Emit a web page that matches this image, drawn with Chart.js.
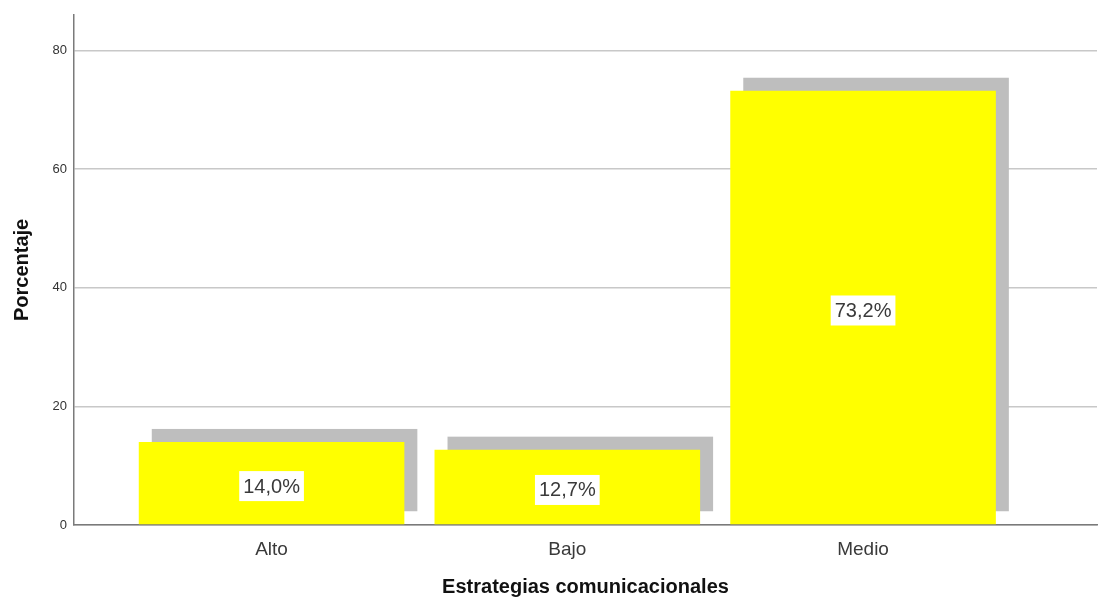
<!DOCTYPE html>
<html>
<head>
<meta charset="utf-8">
<script src="https://cdn.jsdelivr.net/npm/chart.js@4/dist/chart.umd.min.js"></script>
<style>
  html, body { margin: 0; padding: 0; background: #ffffff; }
  #wrap { width: 1099px; height: 601px; }
</style>
</head>
<body>
<div id="wrap"><canvas id="chart" width="1099" height="601"></canvas></div>
<script>
// Data
const categories = ["Alto", "Bajo", "Medio"];
const percentValues = [14.0, 12.7, 73.2];
const valueLabels = ["14,0%", "12,7%", "73,2%"];
const yTicks = [0, 20, 40, 60, 80];

// gray drop shadow drawn behind each bar (offset up and right)
const shadowPlugin = {
  id: "barShadow",
  beforeDatasetsDraw(chart) {
    const ctx = chart.ctx;
    const off = 13;
    ctx.save();
    ctx.fillStyle = "#bebebe";
    chart.getDatasetMeta(0).data.forEach(function(bar) {
      const left = bar.x - bar.width / 2 + off;
      const top = bar.y - off;
      const bottom = bar.base - off;
      ctx.fillRect(left, top, bar.width, bottom - top);
    });
    ctx.restore();
  }
};

// white boxed value labels in the middle of each bar
const labelPlugin = {
  id: "valueBoxes",
  afterDatasetsDraw(chart) {
    const ctx = chart.ctx;
    ctx.save();
    ctx.font = "20px 'Liberation Sans', Arial, sans-serif";
    ctx.textAlign = "center";
    ctx.textBaseline = "middle";
    chart.getDatasetMeta(0).data.forEach(function(bar, i) {
      const text = valueLabels[i];
      const w = ctx.measureText(text).width + 8;
      const h = 30;
      const cy = (bar.y + bar.base) / 2 + 3;
      ctx.fillStyle = "#ffffff";
      ctx.fillRect(bar.x - w / 2, cy - h / 2, w, h);
      ctx.fillStyle = "#3a3a3a";
      ctx.fillText(text, bar.x, cy + 1);
    });
    ctx.restore();
  }
};

const ctx = document.getElementById("chart").getContext("2d");
const chart = new Chart(ctx, {
  type: "bar",
  data: {
    datasets: [{
      label: "Porcentaje",
      data: percentValues.map(function(v, i) { return { x: i, y: v }; }),
      backgroundColor: "#ffff00",
      borderWidth: 0,
      barPercentage: 0.898,
      categoryPercentage: 1.0
    }]
  },
  options: {
    responsive: false,
    animation: false,
    devicePixelRatio: 1,
    layout: { padding: { top: 13, right: 2, left: 0, bottom: 0 } },
    plugins: {
      legend: { display: false },
      tooltip: { enabled: false }
    },
    scales: {
      x: {
        type: "linear",
        offset: false,
        min: -0.668,
        max: 2.791,
        grid: { display: false },
        border: { display: true, color: "#7a7a7a", width: 1.5 },
        afterBuildTicks: function(scale) {
          scale.ticks = categories.map(function(c, i) { return { value: i }; });
        },
        afterFit: function(scale) { scale.height = 76; },
        ticks: {
          padding: 5,
          color: "#3a3a3a",
          font: { family: "'Liberation Sans', Arial, sans-serif", size: 19 },
          maxRotation: 0,
          callback: function(value) { return categories[value]; }
        },
        title: {
          display: true,
          text: "Estrategias comunicacionales",
          color: "#111111",
          font: { family: "'Liberation Sans', Arial, sans-serif", size: 20, weight: "bold" },
          padding: { top: 0, bottom: 2 }
        }
      },
      y: {
        min: 0,
        max: 86,
        grid: { color: "#c8c8c8", lineWidth: 1.5, drawTicks: false },
        border: { display: true, color: "#7a7a7a", width: 1.5 },
        afterBuildTicks: function(scale) {
          scale.ticks = yTicks.map(function(v) { return { value: v }; });
        },
        afterFit: function(scale) { scale.width = 74; },
        ticks: {
          padding: 7,
          color: "#333333",
          font: { family: "'Liberation Sans', Arial, sans-serif", size: 13 }
        },
        title: {
          display: true,
          text: "Porcentaje",
          color: "#111111",
          font: { family: "'Liberation Sans', Arial, sans-serif", size: 20, weight: "bold" },
          padding: { top: 10, bottom: 0 }
        }
      }
    }
  },
  plugins: [shadowPlugin, labelPlugin]
});
</script>
</body>
</html>
